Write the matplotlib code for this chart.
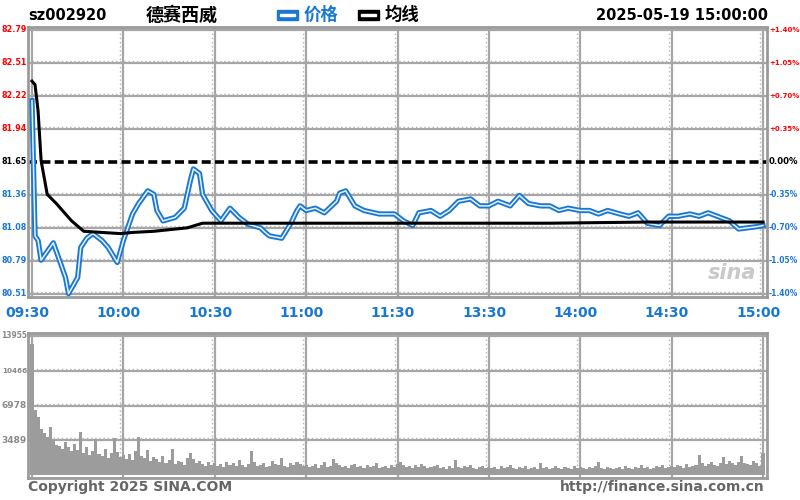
import matplotlib
matplotlib.use("Agg")
import matplotlib.pyplot as plt
import matplotlib.transforms as mtrans
from matplotlib import font_manager
from matplotlib.patches import Rectangle

# Fuente: DejaVu para números y Noto CJK para los caracteres chinos
plt.rcParams['font.family'] = ['DejaVu Sans', 'Noto Sans CJK SC']

# Datos
codigo = "sz002920"
nombre = "德赛西威"
fecha = "2025-05-19 15:00:00"
cierre_previo = 81.65
paso_pct = 0.35          # separación entre líneas horizontales (%)
niveles = [4, 3, 2, 1, 0, -1, -2, -3, -4]

etiquetas_hora = ["09:30", "10:00", "10:30", "11:00", "11:30",
                  "13:30", "14:00", "14:30", "15:00"]

# Precio (minuto desde la apertura, precio)
minutos_precio = [0, 1, 2, 3, 7, 9, 11, 12, 15, 16, 18, 20, 23, 25, 28, 30,
                  33, 35, 38, 40, 41, 43, 47, 50, 52, 53, 55, 56, 59, 62, 65,
                  68, 71, 75, 77, 78, 82, 85, 87, 88, 90, 93, 96, 100, 101,
                  103, 106, 109, 114, 119, 122, 125, 127, 131, 134, 137, 140,
                  144, 147, 150, 153, 157, 160, 163, 167, 170, 173, 176, 180,
                  183, 186, 189, 193, 196, 199, 202, 206, 209, 212, 216, 219,
                  222, 225, 229, 232, 235, 238, 240]
precios = [82.18, 81.01, 80.97, 80.80, 80.95, 80.80, 80.65, 80.51, 80.65,
           80.91, 80.99, 81.03, 80.97, 80.91, 80.78, 80.97, 81.20, 81.29,
           81.40, 81.37, 81.23, 81.14, 81.17, 81.25, 81.49, 81.59, 81.55,
           81.37, 81.23, 81.14, 81.25, 81.17, 81.11, 81.08, 81.03, 81.01,
           80.99, 81.12, 81.23, 81.27, 81.23, 81.25, 81.21, 81.31, 81.38,
           81.40, 81.27, 81.23, 81.20, 81.20, 81.14, 81.10, 81.21, 81.23,
           81.18, 81.23, 81.31, 81.33, 81.27, 81.27, 81.31, 81.27, 81.36,
           81.29, 81.27, 81.27, 81.23, 81.25, 81.23, 81.23, 81.20, 81.23,
           81.20, 81.18, 81.21, 81.12, 81.10, 81.18, 81.18, 81.20, 81.18,
           81.21, 81.18, 81.14, 81.07, 81.08, 81.09, 81.10]

# Precio medio
minutos_media = [0, 1, 2, 3, 5, 8, 13, 17, 23, 29, 33, 40, 51, 56, 77, 121,
                 170, 202, 240]
medias = [82.35, 82.32, 82.09, 81.66, 81.37, 81.29, 81.14, 81.05, 81.04,
          81.03, 81.04, 81.05, 81.08, 81.12, 81.12, 81.12, 81.12, 81.13,
          81.13]

# Volumen por minuto (241 barras)
volumenes = [
    13200, 6500, 5800, 4600, 4200, 3800, 4800, 3500, 3000, 2900,
    2600, 3300, 2800, 2400, 3100, 2500, 4300, 2200, 2800, 2000,
    2400, 3600, 2100, 1900, 2600, 1700, 2200, 3700, 2300, 1800,
    2000, 1600, 2100, 1500, 2400, 3800, 1900, 1700, 2500, 1400,
    1800, 1600, 1300, 1900, 1200, 1500, 2600, 1100, 1400, 1300,
    1000, 1700, 2200, 1600, 1200, 1400, 1100, 900, 1300, 1000,
    1200, 900, 1100, 800, 1300, 1000, 1200, 900, 1500, 1000,
    800, 1100, 2400, 1300, 900, 1000, 1200, 800, 900, 1400,
    1100, 1000, 1700, 900, 800, 1200, 1000, 1300, 1100, 900,
    1000, 800, 900, 1100, 700, 1000, 1300, 800, 900, 1600,
    1200, 1000, 800, 900, 700, 1000, 1100, 800, 900, 700,
    1000, 800, 900, 1200, 700, 800, 900, 700, 1000, 800,
    1100, 1300, 1000, 800, 900, 700, 1000, 800, 1100, 900,
    700, 800, 900, 1000, 700, 800, 600, 900, 700, 1500,
    800, 700, 900, 800, 1000, 700, 600, 800, 900, 700,
    800, 700, 800, 600, 900, 700, 800, 1000, 700, 600,
    800, 700, 900, 600, 700, 800, 600, 1200, 700, 800,
    600, 700, 900, 700, 600, 800, 700, 600, 900, 700,
    800, 700, 600, 800, 700, 900, 1300, 700, 600, 800,
    700, 600, 700, 800, 600, 900, 700, 600, 800, 700,
    1000, 700, 800, 600, 700, 900, 800, 1000, 700, 800,
    900, 800, 1000, 900, 700, 1100, 800, 900, 1000, 2000,
    1200, 900, 1100, 1300, 1000, 900, 1200, 1800, 1100, 1400,
    1200, 1000, 1300, 1900, 1200, 1100, 1000, 1400, 1200, 900,
    2200]
vol_max = 13955

# Colores
ROJO = "#ff0000"
AZUL = "#1a78d0"
GRIS = "#a6a6a6"

# Fuente estrecha para las etiquetas laterales (si está instalada)
instaladas = {f.name for f in font_manager.fontManager.ttflist}
ESTRECHA = ["Liberation Sans Narrow"] if "Liberation Sans Narrow" in instaladas else ["DejaVu Sans"]

W, H = 800, 500
fig = plt.figure(figsize=(W / 100, H / 100), dpi=100)
fig.patch.set_facecolor("white")


def caja(x0, y0, x1, y1):
    """Rectángulo en píxeles (origen arriba a la izquierda) -> fracción de figura."""
    return [x0 / W, 1 - y1 / H, (x1 - x0) / W, (y1 - y0) / H]


def texto(x, y, s, **kw):
    return fig.text(x / W, 1 - y / H, s, va="center", **kw)


# Escala horizontal: minuto 0 en x=32, minuto 240 en x=763
px_min = (763 - 32) / 240
lim_x = (-4 / px_min, 240 + 4 / px_min)


def rejilla(ax, valores_h, dy):
    for i in range(9):
        ax.axvline(i * 30, color=GRIS, lw=1.6, zorder=1)
        if i > 0:
            ax.axvline(i * 30 - 3 / px_min, color="#b5b5b5", lw=1,
                       ls=(0, (1, 2)), zorder=1)
    for v in valores_h:
        ax.axhline(v, color=GRIS, lw=1.6, zorder=1)
        ax.axhline(v + dy, color="#b5b5b5", lw=1, ls=(0, (1, 2)), zorder=1)
    for s in ax.spines.values():
        s.set_color("#9a9a9a")
        s.set_linewidth(2)
    ax.set_xticks([])
    ax.set_yticks([])
    ax.set_xlim(lim_x)


laterales = []   # etiquetas que deben caber entre el borde y el gráfico

# ---------------- Panel de precio ----------------
ax = fig.add_axes(caja(28, 27, 767, 297))
p_alto = cierre_previo * (1 + 4 * paso_pct / 100)
p_bajo = cierre_previo * (1 - 4 * paso_pct / 100)
p_px = (p_alto - p_bajo) / 264
ax.set_ylim(p_bajo - 3 * p_px, p_alto + 3 * p_px)

lineas = [cierre_previo * (1 + k * paso_pct / 100) for k in niveles if k != 0]
rejilla(ax, lineas, 2 * p_px)
ax.axhline(cierre_previo, color="black", lw=2.6, ls=(0, (2.5, 1.2)), zorder=2)

# línea de precio "hueca" azul y línea media negra
ax.plot(minutos_precio, precios, color=AZUL, lw=3.8, zorder=3,
        solid_joinstyle="round")
ax.plot(minutos_precio, precios, color="#e6f2ff", lw=1.1, zorder=4)
ax.plot(minutos_media, medias, color="black", lw=2.2, zorder=5)

# Marca de agua
ax.text(0.985, 0.09, "sina", transform=ax.transAxes, ha="right", va="center",
        fontsize=15, fontweight="bold", style="italic", color="#c9c9c9",
        zorder=2)

# etiquetas del eje de precio
izq = mtrans.blended_transform_factory(fig.transFigure, ax.transData)
for k in niveles:
    valor = cierre_previo * (1 + k * paso_pct / 100)
    color = ROJO if k > 0 else ("black" if k == 0 else AZUL)
    pct = "0.00%" if k == 0 else f"{k * paso_pct:+.2f}%"
    laterales.append(ax.text(27 / W, valor, f"{valor:.2f}", transform=izq,
                             ha="right", va="center", color=color,
                             fontsize=10, fontweight="bold", family=ESTRECHA))
    laterales.append(ax.text(769 / W, valor, pct, transform=izq,
                             ha="left", va="center", color=color,
                             fontsize=10, fontweight="bold", family=ESTRECHA))

abajo = mtrans.blended_transform_factory(ax.transData, fig.transFigure)
for i, h in enumerate(etiquetas_hora):
    ax.text(i * 30 - 1.5, 1 - 313 / H, h, transform=abajo, ha="center",
            va="center", color=AZUL, fontsize=10, fontweight="bold")

# ---------------- Panel de volumen ----------------
axv = fig.add_axes(caja(28, 333, 767, 478))
v_px = vol_max / 139
axv.set_ylim(-3 * v_px, vol_max + 3 * v_px)
rejilla(axv, [vol_max * f for f in (0.25, 0.5, 0.75, 1.0)], 2 * v_px)
axv.bar(range(len(volumenes)), volumenes, width=1.0, color="#9c9c9c",
        linewidth=0, zorder=3)

izq_v = mtrans.blended_transform_factory(fig.transFigure, axv.transData)
for f in (1.0, 0.75, 0.5, 0.25):
    laterales.append(axv.text(27 / W, vol_max * f, f"{vol_max * f:.0f}",
                              transform=izq_v, ha="right", va="center",
                              color="#8a8a8a", fontsize=9.5,
                              fontweight="bold", family=ESTRECHA))

# ---------------- Cabecera y pie ----------------
texto(28, 15, codigo, ha="left", fontsize=10.5, fontweight="bold",
      color="black")
texto(146, 15, nombre, ha="left", fontsize=13, fontweight="bold",
      color="black", family=["Noto Sans CJK SC"])

for x0, color, etiqueta in ((277, AZUL, "价格"), (358, "black", "均线")):
    fig.patches.append(Rectangle((x0 / W, 1 - 20 / H), 21 / W, 10 / H,
                                 transform=fig.transFigure, color=color))
    fig.patches.append(Rectangle(((x0 + 3) / W, 1 - 16 / H), 15 / W, 2 / H,
                                 transform=fig.transFigure, color="white"))
    texto(x0 + 27, 15, etiqueta, ha="left", fontsize=12.5, fontweight="bold",
          color=color, family=["Noto Sans CJK SC"])

texto(768, 15, fecha, ha="right", fontsize=10.5, fontweight="bold",
      color="black")

texto(28, 487, "Copyright 2025 SINA.COM", ha="left", fontsize=10,
      fontweight="bold", color="#666666")
texto(765, 487, "http://finance.sina.com.cn", ha="right", fontsize=10,
      fontweight="bold", color="#666666")

# Reduce las etiquetas laterales hasta que quepan dentro de la figura
fig.canvas.draw()
rend = fig.canvas.get_renderer()
for t in laterales:
    while t.get_fontsize() > 5:
        bb = t.get_window_extent(rend)
        if bb.x0 >= 1 and bb.x1 <= W - 1:
            break
        t.set_fontsize(t.get_fontsize() - 0.25)

fig.savefig("out.png", dpi=100)
